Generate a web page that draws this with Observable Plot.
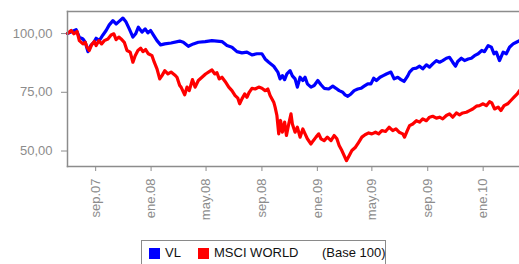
<!DOCTYPE html>
<html>
<head>
<meta charset="utf-8">
<script src="https://cdn.jsdelivr.net/npm/d3@7"></script>
<script src="https://cdn.jsdelivr.net/npm/@observablehq/plot@0.6"></script>
<style>
  html, body { margin: 0; padding: 0; background: #fff; }
  body { width: 519px; height: 264px; position: relative; overflow: hidden; font-family: "Liberation Sans", Arial, sans-serif; }
  #legend { position: absolute; left: 141px; top: 240px; width: 245px; height: 30px; border: 1px solid #8a8a8a; box-sizing: border-box; font-size: 13px; color: #111; }
  #legend span.sw { position: absolute; top: 7px; width: 11px; height: 11px; }
  #legend span.t { position: absolute; top: 4px; white-space: nowrap; }
</style>
</head>
<body>
<div id="chart"></div>
<div id="legend"></div>
<script>
const seriesNames = ["VL", "MSCI WORLD"];
const seriesColors = ["#0000ff", "#ff0000"];
const legendNote = "(Base 100)";

const vlDates = ["2007-07-01","2007-07-20","2007-07-27","2007-08-04","2007-08-09","2007-08-15","2007-08-21","2007-08-28","2007-09-02","2007-09-09","2007-09-17","2007-09-24","2007-10-01","2007-10-09","2007-10-16","2007-10-22","2007-10-31","2007-11-07","2007-11-14","2007-11-22","2007-11-28","2007-12-04","2007-12-12","2007-12-19","2007-12-25","2007-12-31","2008-01-07","2008-01-14","2008-01-22","2008-01-31","2008-02-14","2008-03-04","2008-03-12","2008-03-23","2008-04-03","2008-04-14","2008-04-29","2008-05-14","2008-05-25","2008-06-05","2008-06-16","2008-06-27","2008-07-08","2008-07-19","2008-07-30","2008-08-10","2008-08-21","2008-09-01","2008-09-08","2008-09-16","2008-09-27","2008-10-06","2008-10-11","2008-10-16","2008-10-21","2008-10-26","2008-11-02","2008-11-07","2008-11-13","2008-11-18","2008-11-24","2008-11-30","2008-12-05","2008-12-10","2008-12-18","2008-12-25","2009-01-02","2009-01-09","2009-01-16","2009-01-26","2009-02-04","2009-02-11","2009-02-18","2009-02-26","2009-03-03","2009-03-09","2009-03-16","2009-03-23","2009-03-31","2009-04-07","2009-04-14","2009-04-22","2009-04-29","2009-05-05","2009-05-11","2009-05-19","2009-05-26","2009-06-02","2009-06-12","2009-06-19","2009-06-27","2009-07-04","2009-07-11","2009-07-19","2009-07-23","2009-07-30","2009-08-07","2009-08-14","2009-08-21","2009-08-29","2009-09-05","2009-09-12","2009-09-20","2009-09-27","2009-10-04","2009-10-12","2009-10-19","2009-10-26","2009-11-01","2009-11-06","2009-11-14","2009-11-21","2009-11-29","2009-12-06","2009-12-13","2009-12-21","2009-12-29","2010-01-04","2010-01-12","2010-01-19","2010-01-25","2010-01-30","2010-02-06","2010-02-14","2010-02-21","2010-02-28","2010-03-08","2010-03-15","2010-03-22"];
const vlValues = [100,101.7,98.5,97.7,96.3,92.3,94.9,96.3,98.0,97.0,99.4,101.3,103.7,105.5,104.1,105.1,106.6,104.9,102.0,98.5,99.9,102.7,100.6,102.0,100.3,101.3,99.1,97.0,95.2,95.6,96.0,96.8,96.3,94.6,95.6,96.3,96.6,97.0,96.8,96.6,94.9,94.2,92.3,91.8,92.1,90.9,91.4,91.4,89.2,87.8,86.1,83.6,80.7,82.1,80.4,82.8,84.2,82.0,80.7,77.2,81.4,80.0,81.4,78.6,77.2,77.9,80.0,78.2,76.7,76.4,77.6,76.7,75.7,75.0,73.9,73.3,74.3,75.7,76.4,76.7,77.6,78.6,78.6,81.0,80.0,81.4,82.1,82.8,83.6,80.7,81.4,80.4,79.6,82.0,83.6,85.0,85.3,86.1,85.0,86.7,85.7,87.1,88.5,87.8,88.5,89.5,89.9,87.8,86.1,88.1,89.5,88.5,89.2,89.5,90.6,91.4,92.8,92.3,94.9,94.2,91.4,92.1,88.5,92.1,91.4,94.2,95.6,96.3,97.0];

const msciDates = ["2007-07-01","2007-07-09","2007-07-15","2007-07-22","2007-07-27","2007-08-04","2007-08-09","2007-08-13","2007-08-18","2007-08-23","2007-08-29","2007-09-02","2007-09-08","2007-09-14","2007-09-20","2007-09-28","2007-10-05","2007-10-11","2007-10-16","2007-10-22","2007-10-27","2007-11-03","2007-11-09","2007-11-16","2007-11-22","2007-11-27","2007-12-03","2007-12-09","2007-12-14","2007-12-20","2007-12-26","2008-01-03","2008-01-08","2008-01-14","2008-01-20","2008-01-25","2008-01-31","2008-02-07","2008-02-14","2008-02-22","2008-02-27","2008-03-04","2008-03-07","2008-03-15","2008-03-20","2008-03-25","2008-04-01","2008-04-07","2008-04-14","2008-04-22","2008-04-30","2008-05-08","2008-05-14","2008-05-20","2008-05-25","2008-05-30","2008-06-05","2008-06-12","2008-06-20","2008-06-27","2008-07-04","2008-07-10","2008-07-14","2008-07-19","2008-07-25","2008-07-30","2008-08-04","2008-08-10","2008-08-17","2008-08-25","2008-09-01","2008-09-08","2008-09-14","2008-09-19","2008-09-27","2008-09-30","2008-10-04","2008-10-08","2008-10-12","2008-10-16","2008-10-21","2008-10-25","2008-10-30","2008-11-04","2008-11-07","2008-11-13","2008-11-18","2008-11-24","2008-11-30","2008-12-05","2008-12-10","2008-12-18","2008-12-23","2008-12-29","2009-01-04","2009-01-09","2009-01-16","2009-01-23","2009-01-31","2009-02-07","2009-02-13","2009-02-18","2009-02-24","2009-03-01","2009-03-06","2009-03-12","2009-03-18","2009-03-26","2009-04-02","2009-04-09","2009-04-16","2009-04-24","2009-05-01","2009-05-09","2009-05-16","2009-05-23","2009-05-31","2009-06-08","2009-06-16","2009-06-23","2009-06-30","2009-07-08","2009-07-12","2009-07-18","2009-07-23","2009-07-30","2009-08-07","2009-08-14","2009-08-21","2009-08-29","2009-09-05","2009-09-12","2009-09-20","2009-09-27","2009-10-04","2009-10-12","2009-10-19","2009-10-26","2009-11-03","2009-11-10","2009-11-17","2009-11-25","2009-12-02","2009-12-09","2009-12-17","2009-12-24","2010-01-01","2010-01-08","2010-01-15","2010-01-20","2010-01-26","2010-02-03","2010-02-09","2010-02-16","2010-02-24","2010-03-03","2010-03-10","2010-03-17","2010-03-22"];
const msciValues = [100,101.3,99.9,100.9,97.0,95.6,96.3,94.2,92.8,95.2,96.6,94.9,97.0,95.6,97.0,97.7,99.4,99.9,97.4,98.5,97.7,96.3,92.8,92.1,87.8,90.6,92.8,93.8,92.3,93.2,91.4,90.6,87.8,85.0,80.7,82.1,84.2,82.8,83.6,82.4,81.4,77.9,77.2,73.9,77.2,75.7,80.4,77.2,80.0,81.4,82.8,83.8,84.5,82.8,83.3,80.7,81.4,79.6,77.2,75.7,73.6,72.5,70.1,72.2,74.3,72.9,75.0,76.7,76.4,77.2,76.7,75.7,76.4,73.6,70.8,68.7,65.1,57.3,63.0,58.0,62.3,56.6,61.5,65.8,61.5,58.0,60.1,55.9,59.4,57.3,55.2,53.0,54.4,55.9,57.3,55.2,54.4,55.9,54.4,56.6,55.2,52.3,50.2,48.0,45.9,48.0,50.2,51.6,53.7,55.9,56.9,57.7,57.3,58.0,57.3,58.7,58.3,60.1,58.7,59.4,58.0,57.3,55.9,58.7,60.8,61.5,62.9,62.3,63.7,62.9,64.4,64.8,64.0,64.4,63.7,65.1,65.8,64.4,66.2,65.4,66.2,66.5,67.2,67.9,69.1,69.3,70.1,69.3,71.0,70.5,67.9,68.7,67.2,69.3,70.1,71.5,72.9,74.3,75.7];

const xTickDates = ["2007-09-01","2008-01-01","2008-05-01","2008-09-01","2009-01-01","2009-05-01","2009-09-01","2010-01-01"];
const xTickLabels = ["sep.07","ene.08","may.08","sep.08","ene.09","may.09","sep.09","ene.10"];
const yTicks = [50, 75, 100];
const xDomain = ["2007-07-01", "2010-03-22"];
const yDomain = [43.4, 109.4];

const rows = [];
vlDates.forEach((d, i) => rows.push({series: seriesNames[0], date: new Date(d), value: vlValues[i]}));
msciDates.forEach((d, i) => rows.push({series: seriesNames[1], date: new Date(d), value: msciValues[i]}));

const tickDates = xTickDates.map(d => new Date(d));
const tickIndex = new Map(tickDates.map((d, i) => [+d, xTickLabels[i]]));

const chart = Plot.plot({
  width: 519,
  height: 230,
  marginLeft: 67,
  marginRight: 0,
  marginTop: 11,
  marginBottom: 64,
  style: {fontFamily: "'Liberation Sans', Arial, sans-serif", fontSize: "13px", color: "#8c8c8c", background: "#fff"},
  x: {type: "utc", domain: xDomain.map(d => new Date(d)), ticks: tickDates, tickFormat: d => tickIndex.get(+d), tickRotate: -90, tickSize: 5, tickPadding: 7, label: null},
  y: {domain: yDomain, ticks: yTicks, tickFormat: d => d.toFixed(2).replace(".", ","), tickSize: 6, tickPadding: 9, label: null},
  color: {domain: seriesNames, range: seriesColors},
  marks: [
    Plot.line(rows, {x: "date", y: "value", z: "series", stroke: "series", strokeWidth: 3.2, strokeLinejoin: "round"}),
    Plot.frame({anchor: "left", stroke: "#8c8c8c", strokeWidth: 1.5}),
    Plot.frame({anchor: "top", stroke: "#8c8c8c", strokeWidth: 1.5}),
    Plot.frame({anchor: "bottom", stroke: "#8c8c8c", strokeWidth: 1.5})
  ]
});
document.getElementById("chart").appendChild(chart);

const legend = document.getElementById("legend");
const items = [
  {type: "sw", left: 7, color: seriesColors[0]},
  {type: "t", left: 23, text: seriesNames[0]},
  {type: "sw", left: 56, color: seriesColors[1]},
  {type: "t", left: 72, text: seriesNames[1]},
  {type: "t", left: 180, text: legendNote}
];
for (const it of items) {
  const s = document.createElement("span");
  s.className = it.type;
  s.style.left = it.left + "px";
  if (it.type === "sw") s.style.background = it.color;
  else s.textContent = it.text;
  legend.appendChild(s);
}
</script>
</body>
</html>
